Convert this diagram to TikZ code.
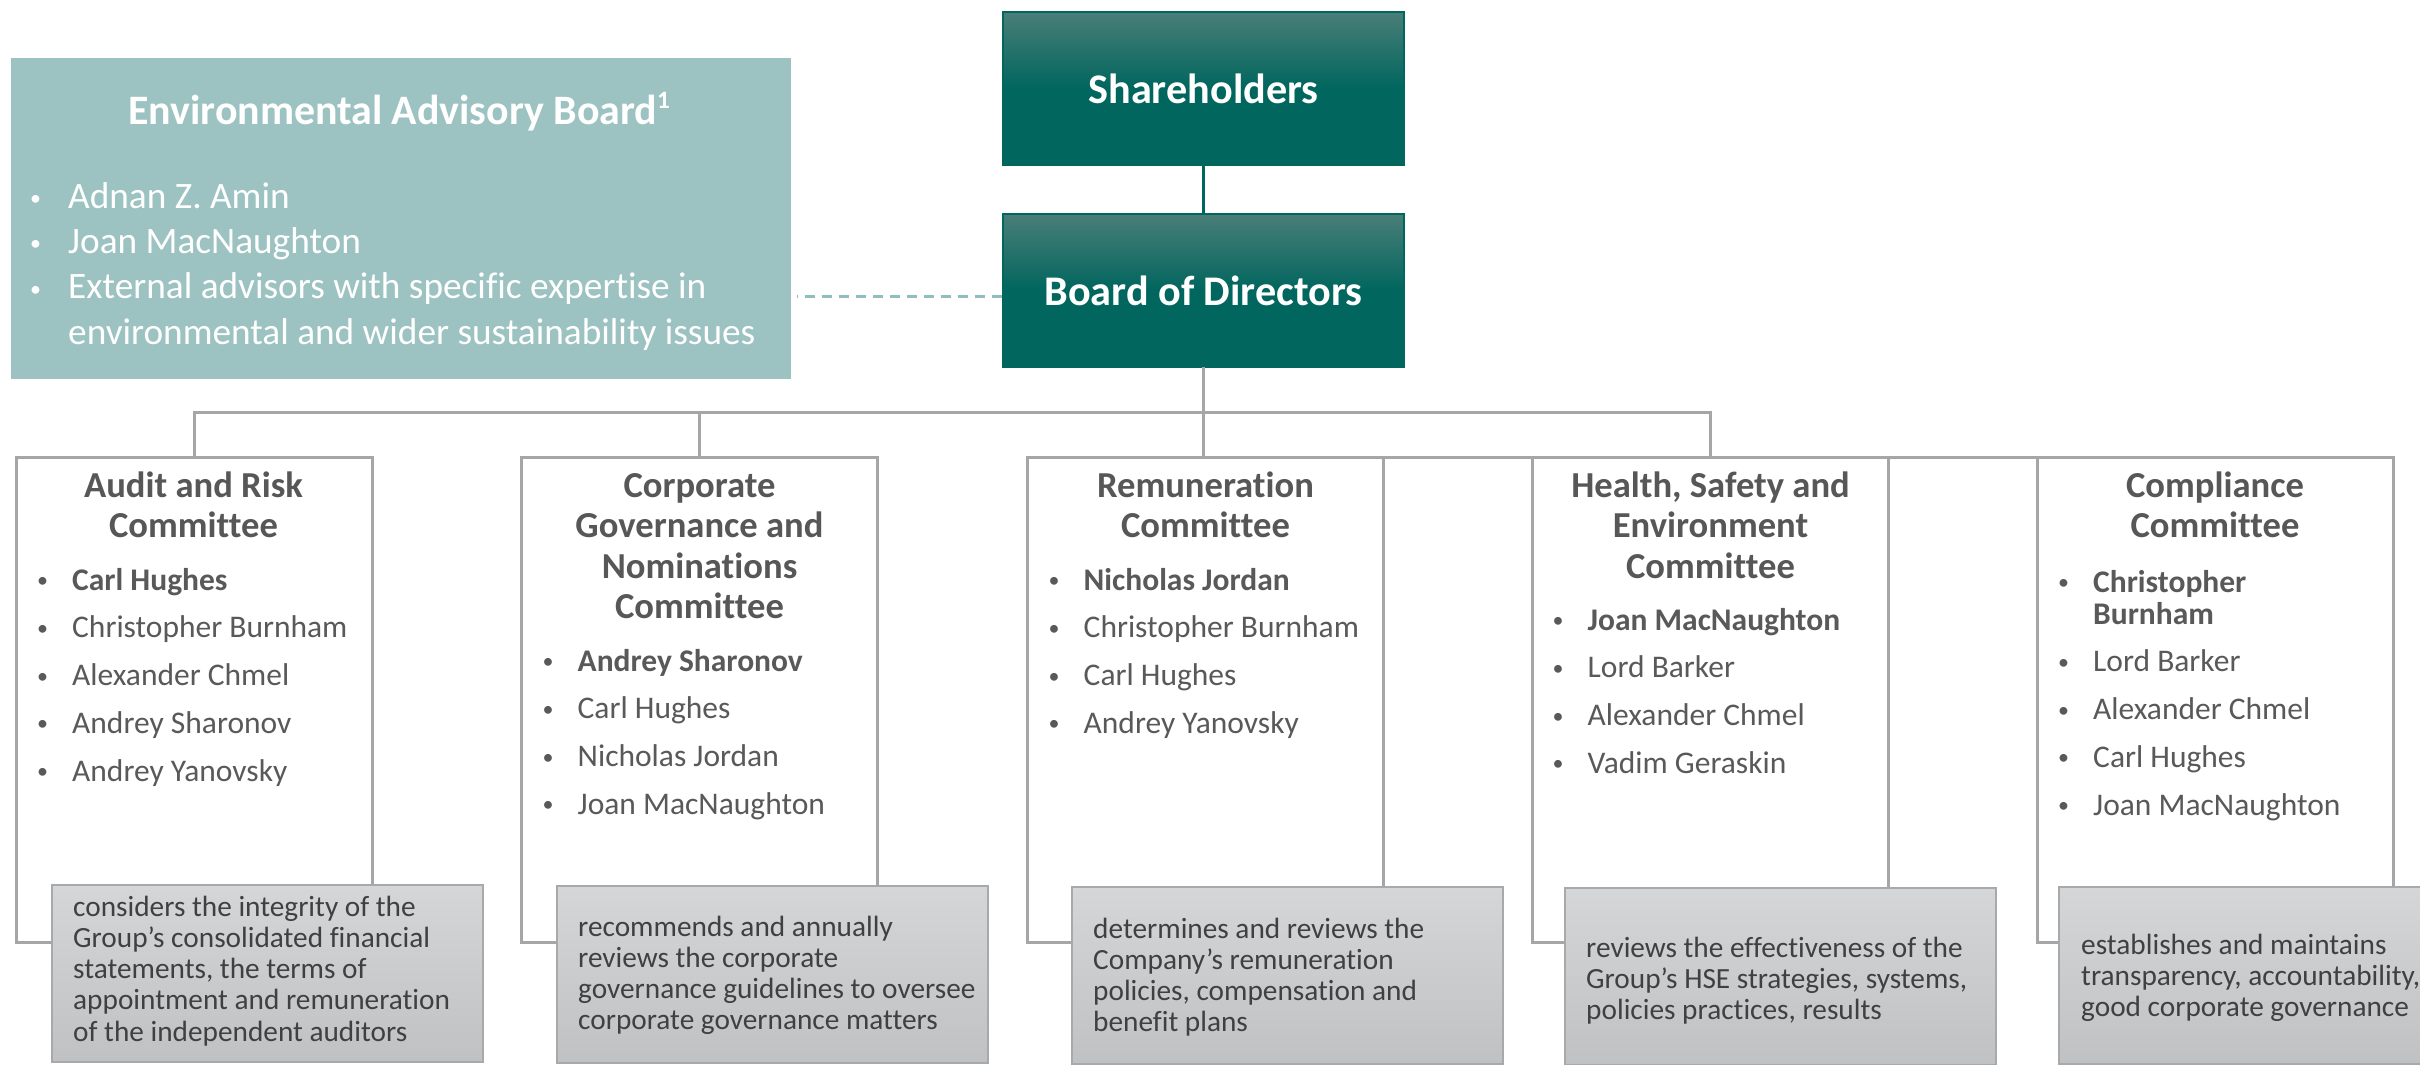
\documentclass[tikz,border=0pt]{standalone}
\usepackage{fontspec}
\setmainfont{Carlito}[Ligatures=NoCommon]
\definecolor{tealdark}{HTML}{00665E}
\definecolor{teallight}{HTML}{4A7E78}
\definecolor{eabfill}{HTML}{9CC3C1}
\definecolor{dashcol}{HTML}{8FBFBC}
\definecolor{lgray}{HTML}{A6A6A6}
\definecolor{desctop}{HTML}{D5D6D8}
\definecolor{descbot}{HTML}{C0C1C3}
\definecolor{descborder}{HTML}{A8A9AB}
\definecolor{titlegray}{HTML}{575757}
\definecolor{namegray}{HTML}{595959}
\definecolor{descgray}{HTML}{404040}
\newcommand\bul[1]{\makebox[#1][l]{\hspace{3pt}\raisebox{2.5pt}{\fontsize{22}{22}\selectfont\textbullet}}}
\tikzset{
  tealbox/.style={draw=tealdark, line width=1.2pt, top color=teallight, bottom color=tealdark, middle color=tealdark,
    minimum width=401pt, minimum height=153pt, inner sep=0pt, outer sep=0pt, text=white,
    font=\fontsize{42.2}{50}\selectfont\bfseries},
  eabbox/.style={fill=eabfill, minimum width=780pt, minimum height=321pt, inner sep=0pt, outer sep=0pt, anchor=north west},
  wbox/.style={draw=lgray, line width=3pt, fill=white, minimum width=356pt, minimum height=485pt,
    inner sep=0pt, outer sep=0pt, anchor=north west},
  dbox/.style={draw=descborder, line width=2pt, top color=desctop, bottom color=descbot,
    minimum width=431pt, minimum height=177pt, inner sep=0pt, outer sep=0pt, anchor=north west},
  gline/.style={draw=lgray, line width=3pt},
  ttl/.style={anchor=base, inner sep=0pt, text=titlegray, font=\fontsize{36.6}{40.6}\selectfont\bfseries},
  names/.style={anchor=base west, inner sep=0pt, text=namegray, font=\fontsize{31.5}{47.8}\selectfont},
  desc/.style={anchor=base west, inner sep=0pt, text=descgray, font=\fontsize{29.3}{31.3}\selectfont},
}
\begin{document}
\begin{tikzpicture}[x=1pt, y=-1pt]
\useasboundingbox (0,0) rectangle (2420,1065);
\fill[white] (0,0) rectangle (2420,1065);

% Environmental Advisory Board
\node[eabbox] (eab) at (11,58) {};
\node[anchor=base, inner sep=0pt, text=white, font=\fontsize{41.9}{50}\selectfont\bfseries] (eabt) at (399,124)
  {Environmental Advisory Board\raisebox{0.36em}{\fontsize{25}{25}\selectfont 1}};
\node[anchor=base west, inner sep=0pt, text=white, font=\fontsize{37.3}{45.4}\selectfont] (eabl) at (27,208)
  {\begin{tabular}[t]{@{}l@{}}
   \bul{41pt}Adnan Z. Amin\\
   \bul{41pt}Joan MacNaughton\\
   \bul{41pt}External advisors with specific expertise in\\
   \hspace*{41pt}environmental and wider sustainability issues
   \end{tabular}};

% Top boxes
\node[tealbox] (sh) at (1203.5,88.5) {Shareholders};
\node[tealbox] (board) at (1203.5,290.5) {Board of Directors};
\draw[tealdark, line width=2.5pt] (sh.south) -- (board.north);
\draw[dashcol, line width=2.5pt, dash pattern=on 10pt off 7pt] ([xshift=-1pt,yshift=-6pt]board.west) -- ([xshift=6pt,yshift=-6pt]board.west -| eab.east);

% Committee boxes
\node[wbox] (c1) at (16,457) {};
\node[wbox] (c2) at (521.5,457) {};
\node[wbox] (c3) at (1027.5,457) {};
\node[wbox] (c4) at (1532.5,457) {};
\node[wbox] (c5) at (2037,457) {};

% Connectors
\coordinate (busy) at (0,412);
\draw[gline, line join=miter] (c1.north) -- (c1.north |- busy) -- (c4.north |- busy) -- (c4.north);
\draw[gline] (c2.north |- busy) -- (c2.north);
\draw[gline] (board.south) -- (board.south |- c3.north);
\draw[gline] (c3.north east) -- (c4.north west);
\draw[gline] (c4.north east) -- (c5.north west);

% Titles
\node[ttl] (t1) at (193.5,497) {\begin{tabular}[t]{@{}c@{}}Audit and Risk\\Committee\end{tabular}};
\node[ttl] (t2) at (699.5,497) {\begin{tabular}[t]{@{}c@{}}Corporate\\Governance and\\Nominations\\Committee\end{tabular}};
\node[ttl] (t3) at (1205.5,497) {\begin{tabular}[t]{@{}c@{}}Remuneration\\Committee\end{tabular}};
\node[ttl] (t4) at (1710.5,497) {\begin{tabular}[t]{@{}c@{}}Health, Safety and\\Environment\\Committee\end{tabular}};
\node[ttl] (t5) at (2215,497) {\begin{tabular}[t]{@{}c@{}}Compliance\\Committee\end{tabular}};

% Members
\node[names] (n1) at (34,590) {\begin{tabular}[t]{@{}l@{}}
  \bul{38pt}\textbf{Carl Hughes}\\
  \bul{38pt}Christopher Burnham\\
  \bul{38pt}Alexander Chmel\\
  \bul{38pt}Andrey Sharonov\\
  \bul{38pt}Andrey Yanovsky\end{tabular}};
\node[names] (n2) at (539.5,671) {\begin{tabular}[t]{@{}l@{}}
  \bul{38pt}\textbf{Andrey Sharonov}\\
  \bul{38pt}Carl Hughes\\
  \bul{38pt}Nicholas Jordan\\
  \bul{38pt}Joan MacNaughton\end{tabular}};
\node[names] (n3) at (1045.5,590) {\begin{tabular}[t]{@{}l@{}}
  \bul{38pt}\textbf{Nicholas Jordan}\\
  \bul{38pt}Christopher Burnham\\
  \bul{38pt}Carl Hughes\\
  \bul{38pt}Andrey Yanovsky\end{tabular}};
\node[names] (n4) at (1549.5,630) {\begin{tabular}[t]{@{}l@{}}
  \bul{38pt}\textbf{Joan MacNaughton}\\
  \bul{38pt}Lord Barker\\
  \bul{38pt}Alexander Chmel\\
  \bul{38pt}Vadim Geraskin\end{tabular}};
\node[names] (n5) at (2055,592) {\begin{tabular}[t]{@{}l@{}}
  \bul{38pt}\textbf{Christopher}\\[-15.8pt]
  \hspace*{38pt}\textbf{Burnham}\\
  \bul{38pt}Lord Barker\\
  \bul{38pt}Alexander Chmel\\
  \bul{38pt}Carl Hughes\\
  \bul{38pt}Joan MacNaughton\end{tabular}};

% Description boxes
\node[dbox] (d1) at (52,885) {};
\node[dbox] (d2) at (557,886) {};
\node[dbox] (d3) at (1072,887) {};
\node[dbox] (d4) at (1565,888) {};
\node[dbox] (d5) at (2059,887) {};

\node[desc] (e1) at (73,916) {\begin{tabular}[t]{@{}l@{}}considers the integrity of the\\Group’s consolidated financial\\statements, the terms of\\appointment and remuneration\\of the independent auditors\end{tabular}};
\node[desc] (e2) at (578,936) {\begin{tabular}[t]{@{}l@{}}recommends and annually\\reviews the corporate\\governance guidelines to oversee\\corporate governance matters\end{tabular}};
\node[desc] (e3) at (1093,938) {\begin{tabular}[t]{@{}l@{}}determines and reviews the\\Company’s remuneration\\policies, compensation and\\benefit plans\end{tabular}};
\node[desc] (e4) at (1586,957) {\begin{tabular}[t]{@{}l@{}}reviews the effectiveness of the\\Group’s HSE strategies, systems,\\policies practices, results\end{tabular}};
\node[desc] (e5) at (2081,954) {\begin{tabular}[t]{@{}l@{}}establishes and maintains\\transparency, accountability,\\good corporate governance\end{tabular}};
\end{tikzpicture}
\end{document}
